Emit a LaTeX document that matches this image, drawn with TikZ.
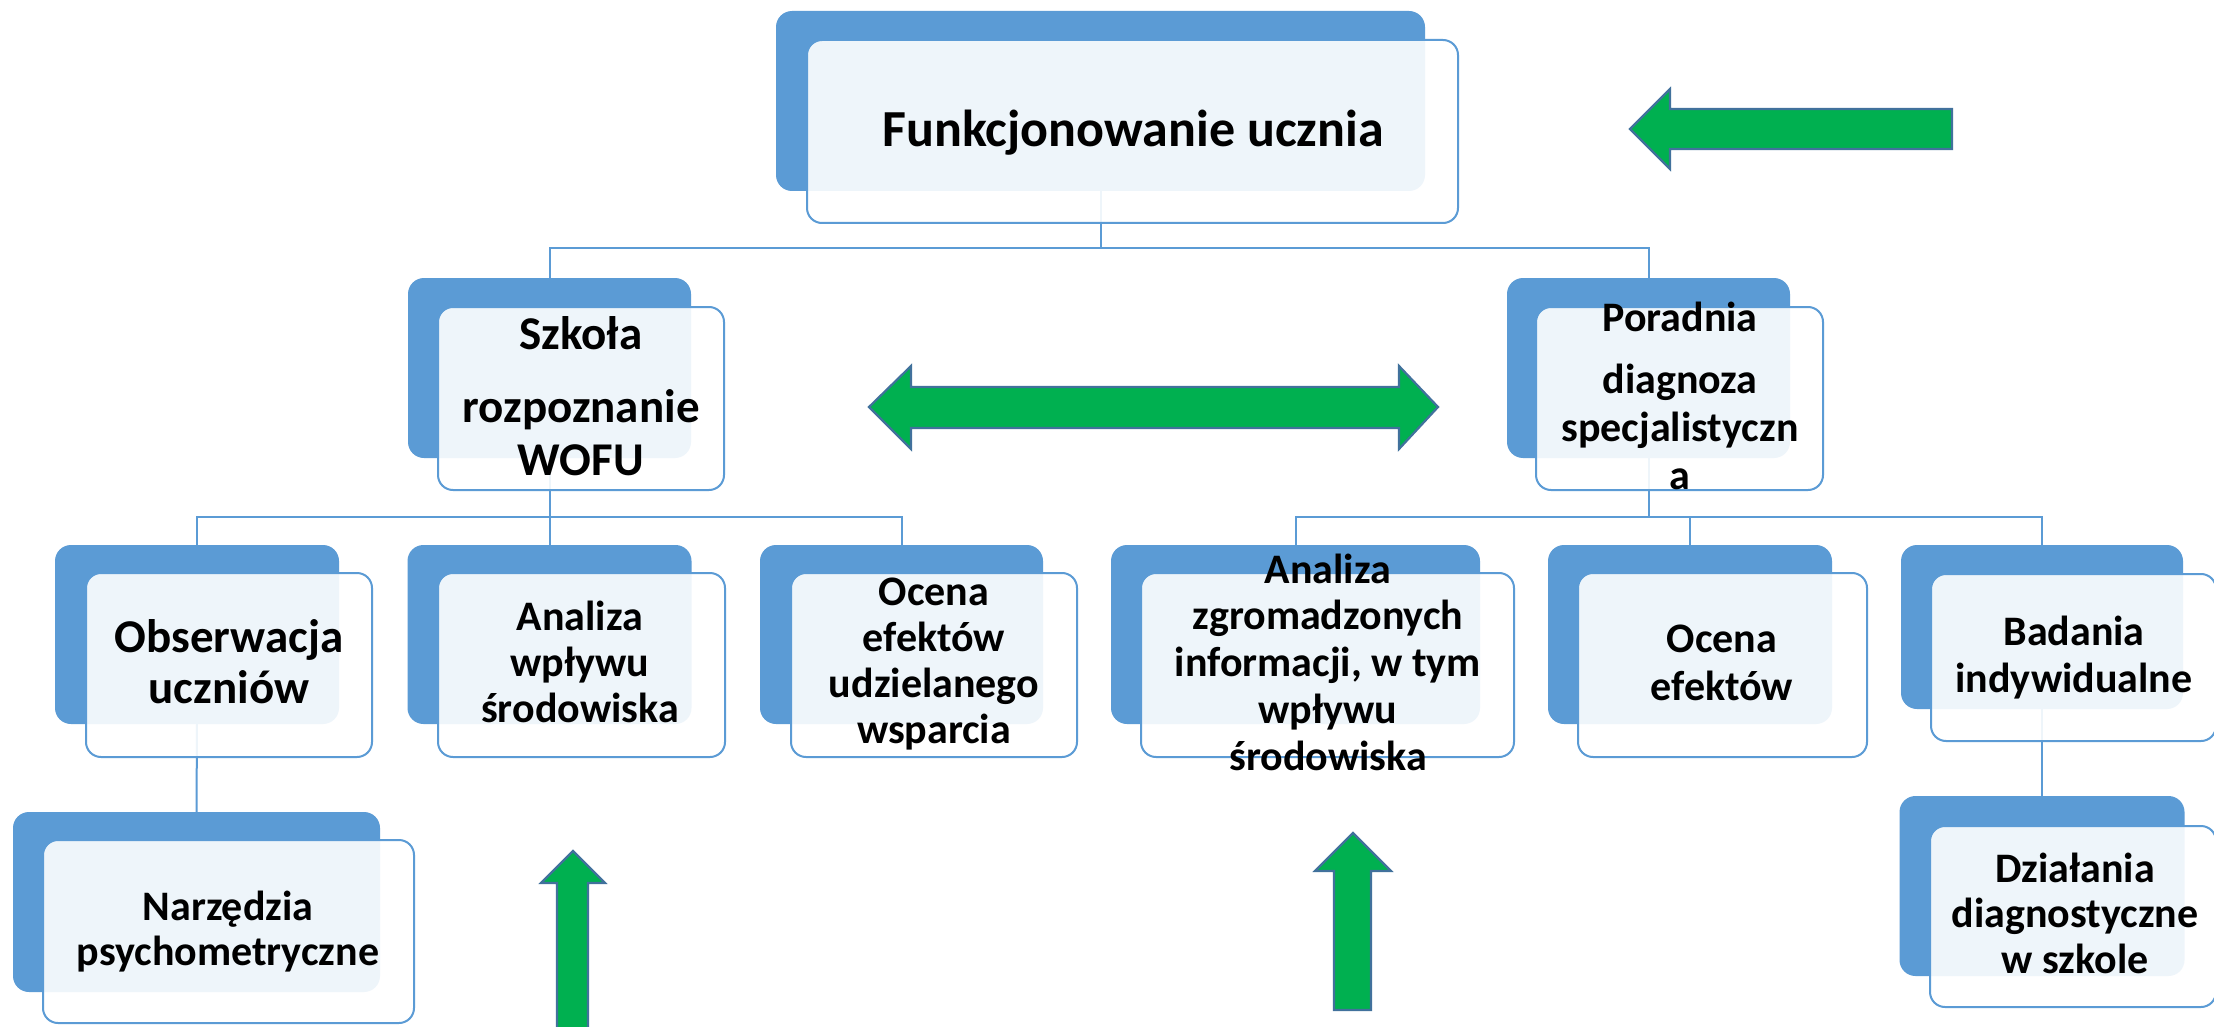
\documentclass[tikz,border=0pt]{standalone}
\usepackage{fontspec}
\setmainfont{Carlito}
\definecolor{boxblue}{HTML}{5B9BD5}
\definecolor{linkblue}{HTML}{5B9BD5}
\definecolor{agreen}{HTML}{00B050}
\definecolor{aedge}{HTML}{41719C}
\tikzset{
  backbox/.style={fill=boxblue, draw=none, rounded corners=16pt, inner sep=0pt, outer sep=0pt},
  frontbox/.style={fill=white, fill opacity=0.9, draw=boxblue, line width=2pt, rounded corners=15pt, inner sep=0pt, outer sep=0pt},
  conn/.style={draw=linkblue, line width=2pt},
  garrow/.style={fill=agreen, draw=aedge, line width=2.2pt, line join=miter},
  lbl/.style={align=center, inner sep=0pt, outer sep=0pt, text=black},
}
\begin{document}
\begin{tikzpicture}[x=1pt, y=-1pt]
\fill[white] (0,0) rectangle (2214,1027);
\clip (0,0) rectangle (2214,1027);
% back boxes
\node[backbox, minimum width=649pt, minimum height=180pt] (b1) at (1100.5,101) {};
\node[backbox, minimum width=283pt, minimum height=180pt] (b2) at (549.5,368) {};
\node[backbox, minimum width=283pt, minimum height=180pt] (b3) at (1648.5,368) {};
\node[backbox, minimum width=284pt, minimum height=179pt] (b4) at (197,634.5) {};
\node[backbox, minimum width=284pt, minimum height=179pt] (b5) at (549.5,634.5) {};
\node[backbox, minimum width=283pt, minimum height=179pt] (b6) at (901.5,634.5) {};
\node[backbox, minimum width=369pt, minimum height=179pt] (b7) at (1295.5,634.5) {};
\node[backbox, minimum width=284pt, minimum height=179pt] (b8) at (1690,634.5) {};
\node[backbox, minimum width=282pt, minimum height=164pt] (b9) at (2042,627) {};
\node[backbox, minimum width=367pt, minimum height=180pt] (b10) at (196.5,902) {};
\node[backbox, minimum width=285pt, minimum height=180pt] (b11) at (2042,886) {};
% connectors
\coordinate (j1) at (1100.5,248);
\coordinate (j2) at (549.5,517);
\coordinate (j3) at (1648.5,517);
\draw[conn] (b1.south) -- (j1);
\draw[conn] (b2.north) |- (j1) -| (b3.north);
\draw[conn] (b2.south) -- (b5.north);
\draw[conn] (b4.north) |- (j2) -| (b6.north);
\draw[conn] (b3.south) -- (j3);
\draw[conn] (b7.north) |- (j3) -| (b9.north);
\draw[conn] (b8.north) -- (b8.north |- j3);
\draw[conn] (b4.south) -- (b10.north);
\draw[conn] (b9.south) -- (b11.north);
% front boxes
\node[frontbox, minimum width=651pt, minimum height=183pt] (f1) at (1132.5,131.5) {};
\node[frontbox, minimum width=286pt, minimum height=183pt] (f2) at (581,398.5) {};
\node[frontbox, minimum width=287pt, minimum height=183pt] (f3) at (1679.5,398.5) {};
\node[frontbox, minimum width=286pt, minimum height=184pt] (f4) at (229,665) {};
\node[frontbox, minimum width=287pt, minimum height=184pt] (f5) at (581.5,665) {};
\node[frontbox, minimum width=286pt, minimum height=184pt] (f6) at (934,665) {};
\node[frontbox, minimum width=373pt, minimum height=184pt] (f7) at (1327.5,665) {};
\node[frontbox, minimum width=289pt, minimum height=184pt] (f8) at (1722.5,665) {};
\node[frontbox, minimum width=285pt, minimum height=167pt] (f9) at (2073.5,657.5) {};
\node[frontbox, minimum width=371pt, minimum height=183pt] (f10) at (228.5,931.5) {};
\node[frontbox, minimum width=286pt, minimum height=181pt] (f11) at (2073,916.5) {};
% texts
\node[lbl, font=\bfseries\fontsize{52}{62}\selectfont] (t1) at (1133,134.6) {\strut Funkcjonowanie ucznia};
\node[lbl, font=\bfseries\fontsize{47}{53}\selectfont] (t2) at (581,401.4) {\strut Szkoła\\[20pt] rozpoznanie\\ WOFU\strut};
\node[lbl, font=\bfseries\fontsize{42}{48}\selectfont] (t3) at (1680,400.4) {\strut Poradnia\\[14pt] diagnoza\\ specjalistyczn\\ a\strut};
\node[lbl, font=\bfseries\fontsize{47}{51}\selectfont] (t4) at (229,667.3) {\strut Obserwacja\\ uczniów\strut};
\node[lbl, font=\bfseries\fontsize{42}{46}\selectfont] (t5) at (580,666.8) {\strut Analiza\\ wpływu\\ środowiska\strut};
\node[lbl, font=\bfseries\fontsize{42}{46.3}\selectfont] (t6) at (934,665.2) {\strut Ocena\\ efektów\\ udzielanego\\ wsparcia\strut};
\node[lbl, font=\bfseries\fontsize{42}{46.75}\selectfont] (t7) at (1328,667.2) {\strut Analiza\\ zgromadzonych\\ informacji, w tym\\ wpływu\\ środowiska\strut};
\node[lbl, font=\bfseries\fontsize{42}{48}\selectfont] (t8) at (1722,666.4) {\strut Ocena\\ efektów\strut};
\node[lbl, font=\bfseries\fontsize{42}{47}\selectfont] (t9) at (2074,659.1) {\strut Badania\\ indywidualne\strut};
\node[lbl, font=\bfseries\fontsize{42}{45}\selectfont] (t10) at (228,933.5) {\strut Narzędzia\\ psychometryczne\strut};
\node[lbl, font=\bfseries\fontsize{42}{45.5}\selectfont] (t11) at (2075,918.4) {\strut Działania\\ diagnostyczne\\ w szkole\strut};
% green arrows
\draw[garrow] (1630,129) -- (1670,89) -- (1670,109) -- (1952,109) -- (1952,149) -- (1670,149) -- (1670,169) -- cycle;
\draw[garrow] (869,407) -- (911,366) -- (911,387) -- (1399,387) -- (1399,366) -- (1438,407) -- (1399,449) -- (1399,428) -- (911,428) -- (911,449) -- cycle;
\draw[garrow] (573,851) -- (605,883) -- (588,883) -- (588,1040) -- (557,1040) -- (557,883) -- (541,883) -- cycle;
\draw[garrow] (1353,833) -- (1391,871) -- (1371,871) -- (1371,1010) -- (1334,1010) -- (1334,871) -- (1315,871) -- cycle;
\end{tikzpicture}
\end{document}
